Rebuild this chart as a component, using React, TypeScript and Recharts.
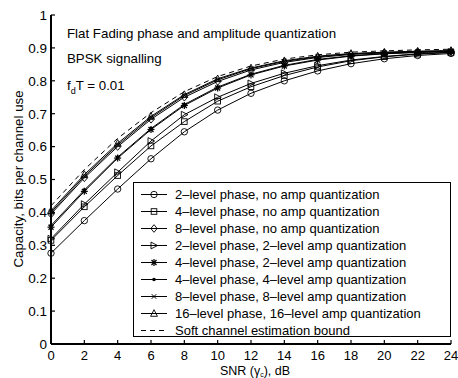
import React from "react";
import { LineChart, Line, XAxis, YAxis, Legend } from "recharts";

const snrDb = [0, 2, 4, 6, 8, 10, 12, 14, 16, 18, 20, 22, 24];
const yTicks = [0, 0.1, 0.2, 0.3, 0.4, 0.5, 0.6, 0.7, 0.8, 0.9, 1];

// capacity, bits per channel use
const phase2NoAmp = [0.276, 0.375, 0.471, 0.563, 0.645, 0.711, 0.762, 0.8, 0.83, 0.852, 0.867, 0.877, 0.883];
const phase4NoAmp = [0.315, 0.417, 0.512, 0.602, 0.676, 0.738, 0.782, 0.816, 0.842, 0.861, 0.873, 0.881, 0.886];
const phase8NoAmp = [0.395, 0.505, 0.6, 0.683, 0.75, 0.798, 0.833, 0.856, 0.871, 0.88, 0.885, 0.888, 0.89];
const phase2Amp2 = [0.32, 0.425, 0.522, 0.617, 0.697, 0.75, 0.792, 0.823, 0.846, 0.863, 0.874, 0.882, 0.887];
const phase4Amp2 = [0.355, 0.464, 0.565, 0.652, 0.725, 0.778, 0.818, 0.845, 0.863, 0.875, 0.882, 0.886, 0.889];
const phase4Amp4 = [0.36, 0.468, 0.568, 0.655, 0.728, 0.781, 0.82, 0.847, 0.865, 0.876, 0.883, 0.887, 0.889];
const phase8Amp8 = [0.4, 0.51, 0.605, 0.688, 0.755, 0.803, 0.837, 0.859, 0.873, 0.882, 0.886, 0.889, 0.891];
const phase16Amp16 = [0.405, 0.515, 0.61, 0.692, 0.758, 0.806, 0.839, 0.861, 0.875, 0.883, 0.887, 0.89, 0.892];
const softBound = [0.42, 0.53, 0.625, 0.703, 0.767, 0.813, 0.845, 0.866, 0.879, 0.887, 0.891, 0.894, 0.896];

const FONT = "'Liberation Sans', Arial, Helvetica, sans-serif";

type MarkerType = "o" | "s" | "d" | ">" | "*" | "." | "x" | "^" | "none";

const SERIES: { key: string; name: string; values: number[]; marker: MarkerType; dashed?: boolean }[] = [
  { key: "p2", name: "2–level phase, no amp quantization", values: phase2NoAmp, marker: "o" },
  { key: "p4", name: "4–level phase, no amp quantization", values: phase4NoAmp, marker: "s" },
  { key: "p8", name: "8–level phase, no amp quantization", values: phase8NoAmp, marker: "d" },
  { key: "p2a2", name: "2–level phase, 2–level amp quantization", values: phase2Amp2, marker: ">" },
  { key: "p4a2", name: "4–level phase, 2–level amp quantization", values: phase4Amp2, marker: "*" },
  { key: "p4a4", name: "4–level phase, 4–level amp quantization", values: phase4Amp4, marker: "." },
  { key: "p8a8", name: "8–level phase, 8–level amp quantization", values: phase8Amp8, marker: "x" },
  { key: "p16a16", name: "16–level phase, 16–level amp quantization", values: phase16Amp16, marker: "^" },
  { key: "soft", name: "Soft channel estimation bound", values: softBound, marker: "none", dashed: true },
];

const data = snrDb.map((snr, i) => {
  const row: Record<string, number> = { snr };
  SERIES.forEach((s) => (row[s.key] = s.values[i]));
  return row;
});

function Marker({ type, cx, cy }: { type: MarkerType; cx: number; cy: number }) {
  const st = { stroke: "#000", strokeWidth: 0.9, fill: "none" };
  switch (type) {
    case "o":
      return <circle cx={cx} cy={cy} r={3.2} {...st} />;
    case "s":
      return <rect x={cx - 2.8} y={cy - 2.8} width={5.6} height={5.6} {...st} />;
    case "d":
      return <polygon points={`${cx},${cy - 3.8} ${cx + 3.2},${cy} ${cx},${cy + 3.8} ${cx - 3.2},${cy}`} {...st} />;
    case ">":
      return <polygon points={`${cx + 3.6},${cy} ${cx - 3},${cy - 3.4} ${cx - 3},${cy + 3.4}`} {...st} />;
    case "^":
      return <polygon points={`${cx},${cy - 3.8} ${cx + 3.4},${cy + 2.8} ${cx - 3.4},${cy + 2.8}`} {...st} />;
    case "*":
      return (
        <g stroke="#000" strokeWidth={1.2}>
          <line x1={cx - 3.5} y1={cy} x2={cx + 3.5} y2={cy} />
          <line x1={cx} y1={cy - 3.5} x2={cx} y2={cy + 3.5} />
          <line x1={cx - 2.5} y1={cy - 2.5} x2={cx + 2.5} y2={cy + 2.5} />
          <line x1={cx - 2.5} y1={cy + 2.5} x2={cx + 2.5} y2={cy - 2.5} />
        </g>
      );
    case ".":
      return <circle cx={cx} cy={cy} r={1.8} fill="#000" />;
    case "x":
      return (
        <g stroke="#000" strokeWidth={1}>
          <line x1={cx - 2.3} y1={cy - 2.3} x2={cx + 2.3} y2={cy + 2.3} />
          <line x1={cx - 2.3} y1={cy + 2.3} x2={cx + 2.3} y2={cy - 2.3} />
        </g>
      );
    default:
      return null;
  }
}

// ticks point into the plot, box style
const BottomTick = ({ x, y, payload }: any) => (
  <g>
    <line x1={x} x2={x} y1={y} y2={y - 4} stroke="#000" strokeWidth={1.2} />
    <text x={x} y={y + 16} textAnchor="middle" fontSize={13} fontFamily={FONT} fill="#000">
      {payload.value}
    </text>
  </g>
);

const TopTick = ({ x, y }: any) => <line x1={x} x2={x} y1={y} y2={y + 4} stroke="#000" strokeWidth={1.2} />;

const LeftTick = ({ x, y, payload }: any) => (
  <g>
    <line x1={x} x2={x + 4} y1={y} y2={y} stroke="#000" strokeWidth={1.2} />
    <text x={x - 4} y={y + 4.8} textAnchor="end" fontSize={13.5} fontFamily={FONT} fill="#000">
      {payload.value}
    </text>
  </g>
);

const RightTick = ({ x, y }: any) => <line x1={x} x2={x - 4} y1={y} y2={y} stroke="#000" strokeWidth={1.2} />;

const LegendBox = () => (
  <div
    style={{
      boxSizing: "border-box",
      width: 318,
      height: 155,
      border: "1.5px solid #000",
      background: "#fff",
      paddingTop: 3,
      fontFamily: FONT,
      fontSize: 13,
      color: "#000",
    }}
  >
    {SERIES.map((s) => (
      <div key={s.key} style={{ display: "flex", alignItems: "center", height: 17, whiteSpace: "nowrap" }}>
        <svg width={40} height={17} style={{ flex: "none" }}>
          <line x1={7} x2={33} y1={8.5} y2={8.5} stroke="#000" strokeWidth={1} strokeDasharray={s.dashed ? "5 4" : undefined} />
          <Marker type={s.marker} cx={20} cy={8.5} />
        </svg>
        <span style={{ marginLeft: 1 }}>{s.name}</span>
      </div>
    ))}
  </div>
);

export default function App() {
  const axisLine = { stroke: "#000", strokeWidth: 2 };
  return (
    <div style={{ position: "absolute", left: 0, top: 0, width: 458, height: 378, background: "#fff", fontFamily: FONT }}>
      <LineChart width={458} height={378} data={data} margin={{ top: 15, right: 7, bottom: 0, left: 21 }}>
        <XAxis
          dataKey="snr"
          type="number"
          domain={[0, 24]}
          ticks={snrDb}
          interval={0}
          height={34}
          tickSize={0}
          tickMargin={0}
          tickLine={false}
          axisLine={axisLine}
          tick={<BottomTick />}
        />
        <XAxis
          xAxisId="top"
          orientation="top"
          type="number"
          domain={[0, 24]}
          ticks={snrDb}
          interval={0}
          height={0}
          tickSize={0}
          tickMargin={0}
          tickLine={false}
          axisLine={axisLine}
          tick={<TopTick />}
        />
        <YAxis
          type="number"
          domain={[0, 1]}
          ticks={yTicks}
          interval={0}
          width={30}
          tickSize={0}
          tickMargin={0}
          tickLine={false}
          axisLine={axisLine}
          tick={<LeftTick />}
        />
        <YAxis
          yAxisId="right"
          orientation="right"
          type="number"
          domain={[0, 1]}
          ticks={yTicks}
          interval={0}
          width={0}
          tickSize={0}
          tickMargin={0}
          tickLine={false}
          axisLine={axisLine}
          tick={<RightTick />}
        />
        {SERIES.map((s) => (
          <Line
            key={s.key}
            dataKey={s.key}
            name={s.name}
            type="linear"
            stroke="#000"
            strokeWidth={1}
            strokeDasharray={s.dashed ? "5 4" : undefined}
            dot={(p: any) => <Marker key={`${s.key}-${p.index}`} type={s.marker} cx={p.cx} cy={p.cy} />}
            activeDot={false}
            isAnimationActive={false}
          />
        ))}
        <Legend
          layout="vertical"
          verticalAlign="middle"
          align="center"
          content={<LegendBox />}
          wrapperStyle={{ left: 133, top: 182, width: 318, height: 155 }}
        />
      </LineChart>
      <svg width={458} height={378} style={{ position: "absolute", left: 0, top: 0, pointerEvents: "none" }} fontFamily={FONT} fontSize={13.3}>
        <text x={67} y={38}>Flat Fading phase and amplitude quantization</text>
        <text x={67} y={63}>BPSK signalling</text>
        <text x={67} y={89.5}>
          f<tspan fontSize={9} dy={4.5}>d</tspan>
          <tspan dy={-4.5}>T = 0.01</tspan>
        </text>
        <text x={23} y={179} textAnchor="middle" transform="rotate(-90, 23, 179)">
          Capacity, bits per channel use
        </text>
        <text x={255} y={375} textAnchor="middle" fontSize={12.5}>
          SNR (γ<tspan fontSize={7} dy={2}>c</tspan>
          <tspan dy={-2}>), dB</tspan>
        </text>
      </svg>
    </div>
  );
}
